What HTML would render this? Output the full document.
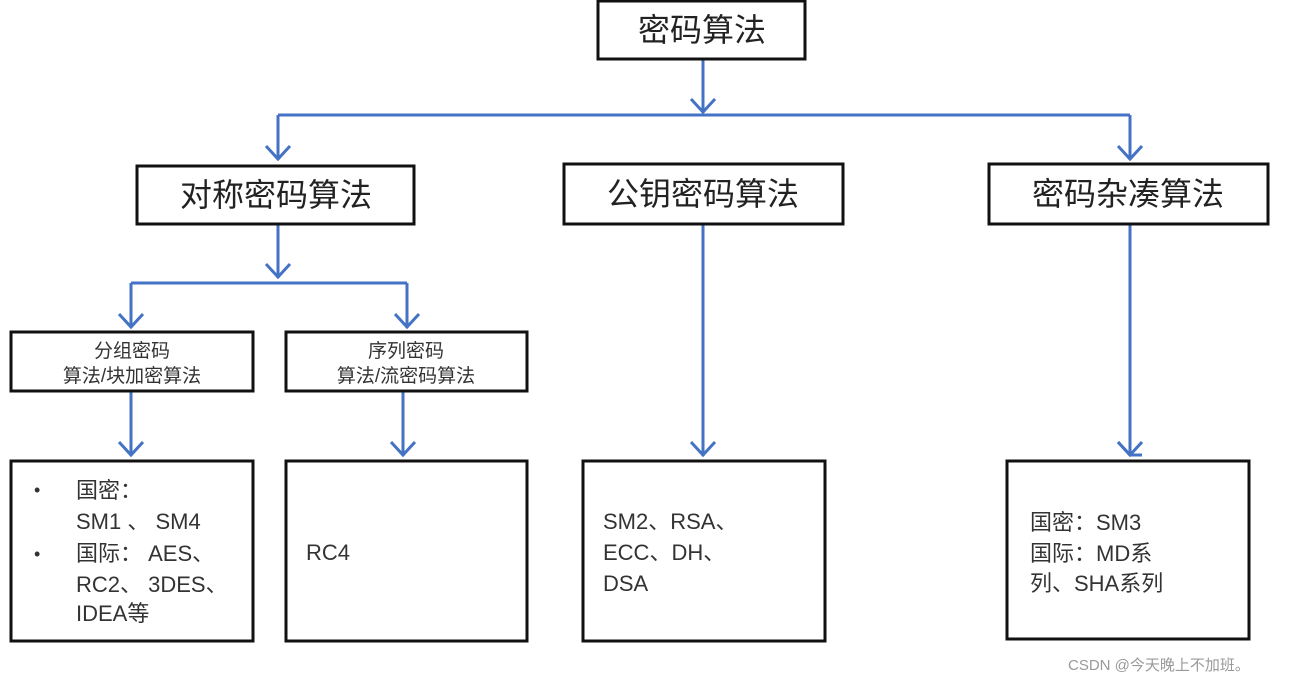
<!DOCTYPE html>
<html><head><meta charset="utf-8"><style>
html,body{margin:0;padding:0;background:#fff;}
svg{display:block;font-family:"Liberation Sans","Noto Sans CJK SC",sans-serif;}
</style></head><body>
<svg width="1301" height="682" viewBox="0 0 1301 682" xmlns="http://www.w3.org/2000/svg">
<g fill="none" stroke="#4472c4" stroke-width="3">
<path d="M703 59V113M278 115H1130M278 115V160M1130 115V160"/>
<path d="M278 224V278M131 283H407M131 283V328M407 283V328"/>
<path d="M131 391V456M403 391V456M703 224V456M1130 224V456"/>
<path d="M691 99L703 112L715 99M266 146L278 159L290 146M1118 146L1130 159L1142 146M266 264L278 277L290 264M119 314L131 327L143 314M395 314L407 327L419 314M119 442L131 455L143 442M391 442L403 455L415 442M691 442L703 455L715 442M1118 442L1130 455L1142 455"/>
<path d="M1118 442L1130 455L1142 442"/>
</g>
<g fill="#fff" stroke="#111" stroke-width="3">
<rect x="598" y="1" width="207" height="58"/>
<rect x="137" y="166" width="277" height="58"/>
<rect x="564" y="164" width="279" height="60"/>
<rect x="989" y="164" width="279" height="60"/>
<rect x="11" y="332" width="242" height="59"/>
<rect x="286" y="332" width="241" height="59"/>
<rect x="11" y="461" width="242" height="180"/>
<rect x="286" y="461" width="241" height="180"/>
<rect x="583" y="461" width="242" height="180"/>
<rect x="1007" y="461" width="242" height="178"/>
</g>
<g fill="#222" text-anchor="middle" font-size="32">
<text x="702" y="41">密码算法</text>
<text x="276" y="206">对称密码算法</text>
<text x="703" y="205">公钥密码算法</text>
<text x="1128" y="205">密码杂凑算法</text>
</g>
<g fill="#333" text-anchor="middle" font-size="19">
<text x="132" y="357">分组密码</text>
<text x="132" y="382">算法/块加密算法</text>
<text x="406" y="357">序列密码</text>
<text x="406" y="382">算法/流密码算法</text>
</g>
<g fill="#333" font-size="22">
<text x="34" y="496" font-size="18">•</text>
<text x="76" y="498">国密：</text>
<text x="76" y="529">SM1 、 SM4</text>
<text x="34" y="560" font-size="18">•</text>
<text x="76" y="561">国际： AES、</text>
<text x="76" y="592">RC2、 3DES、</text>
<text x="76" y="621">IDEA等</text>
<text x="306" y="560">RC4</text>
<text x="603" y="529">SM2、RSA、</text>
<text x="603" y="560">ECC、DH、</text>
<text x="603" y="591">DSA</text>
<text x="1030" y="530">国密：SM3</text>
<text x="1030" y="561">国际：MD系</text>
<text x="1030" y="591">列、SHA系列</text>
</g>
<text x="1068" y="670" fill="#999" font-size="15">CSDN @今天晚上不加班。</text>
</svg>
</body></html>
